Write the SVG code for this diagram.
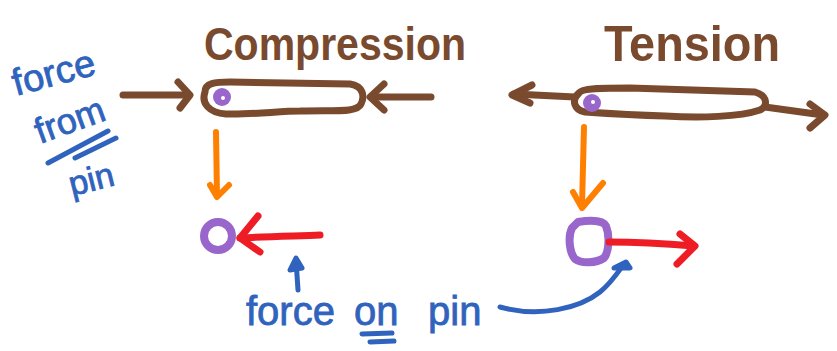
<svg xmlns="http://www.w3.org/2000/svg" width="837" height="351" viewBox="0 0 837 351">
  <style>
    .brown { fill: none; stroke: #7A4A2F; stroke-width: 7; stroke-linecap: round; stroke-linejoin: round; }
    .orange { fill: none; stroke: #FF8000; stroke-width: 6; stroke-linecap: round; stroke-linejoin: round; }
    .red { fill: none; stroke: #EE1C25; stroke-width: 7; stroke-linecap: round; stroke-linejoin: round; }
    .purple { fill: none; stroke: #9966CC; stroke-width: 8; stroke-linecap: round; stroke-linejoin: round; }
    .blue { fill: none; stroke: #2F63BD; stroke-width: 5; stroke-linecap: round; stroke-linejoin: round; }
    .title { font-family: "Liberation Sans", Arial, sans-serif; font-weight: bold; fill: #7A4A2F; }
    .note { font-family: "Liberation Sans", Arial, sans-serif; fill: #2F63BD; stroke: #2F63BD; stroke-width: 0.8; }
  </style>

  <!-- headings -->
  <g id="compression-label">
    <text class="title" x="204" y="60" font-size="46" textLength="262" lengthAdjust="spacingAndGlyphs">Compression</text>
  </g>
  <g id="tension-label">
    <text class="title" x="604" y="61" font-size="50" textLength="176" lengthAdjust="spacingAndGlyphs">Tension</text>
  </g>

  <!-- member in compression -->
  <g id="compression-member">
    <path class="brown" d="M205,92 C205,83 215,82 230,82 L350,84 C363,86 365,96 361,104 C357,113 335,110 300,111 C280,111 250,115 226,114 C209,113 201,103 205,92 Z"/>
    <circle cx="222" cy="97" r="9" fill="#9966CC"/>
    <circle cx="223" cy="98" r="2" fill="#ffffff"/>
  </g>

  <!-- member in tension -->
  <g id="tension-member">
    <path class="brown" d="M579,93 C582,88 600,88 630,88 L755,92 C768,96 768,106 760,110 C740,117 700,118 665,116 C630,115 600,113 585,112 C574,110 571,100 579,93 Z"/>
    <circle cx="592" cy="103" r="9" fill="#9966CC"/>
    <circle cx="593" cy="102" r="2" fill="#ffffff"/>
  </g>

  <!-- pins -->
  <g id="pin-compression">
    <circle class="purple" cx="218" cy="236" r="14"/>
  </g>
  <g id="pin-tension">
    <path class="purple" d="M578,222 C590,220 603,220 606,226 C610,236 609,252 604,258 C596,263 582,264 575,259 C569,252 568,236 572,228 Z"/>
  </g>

  <!-- notes -->
  <g id="force-from-pin-note">
    <text class="note" x="16" y="96" font-size="38" transform="rotate(-15 16 96)">force</text>
    <text class="note" x="40" y="144" font-size="36" transform="rotate(-20 40 144)">from</text>
    <path class="blue" d="M48,163 L108,131"/>
    <path class="blue" d="M75,158 L116,138"/>
    <text class="note" x="72" y="196" font-size="34" transform="rotate(-14 72 196)">pin</text>
  </g>
  <g id="force-on-pin-note">
    <text class="note" x="246" y="325" font-size="40">force</text>
    <text class="note" x="354" y="325" font-size="40">on</text>
    <path class="blue" d="M362,334 L392,333"/>
    <path class="blue" d="M370,342 L394,341"/>
    <text class="note" x="428" y="325" font-size="40">pin</text>
  </g>

  <!-- connectors -->
  <g id="connectors">
    <!-- brown applied loads -->
    <path class="brown" d="M123,95 L188,95"/>
    <path class="brown" d="M178,82 L190,95 L180,108"/>
    <path class="brown" d="M431,97 L372,97"/>
    <path class="brown" d="M384,84 L370,97 L384,110"/>
    <path class="brown" d="M575,97 L514,94"/>
    <path class="brown" d="M532,85 L512,95 L530,103"/>
    <path class="brown" d="M765,107 L823,115"/>
    <path class="brown" d="M810,104 L825,115 L810,128"/>

    <!-- orange: member to pin -->
    <path class="orange" d="M216,132 L217,196"/>
    <path class="orange" d="M210,185 L217,197 L229,185"/>
    <path class="orange" d="M584,127 L582,206"/>
    <path class="orange" d="M573,192 L582,208 L603,183"/>

    <!-- red: force on pin -->
    <path class="red" d="M320,235 C300,236 270,236 240,238"/>
    <path class="red" d="M258,216 L240,238 L260,252"/>
    <path class="red" d="M609,242 C640,242 670,244 694,246"/>
    <path class="red" d="M680,234 L695,246 L677,264"/>

    <!-- blue pointers -->
    <path class="blue" d="M298,290 L296,260"/>
    <path class="blue" d="M290,270 L296,258 L302,268 Z"/>
    <path class="blue" d="M500,307 C540,318 580,308 600,292 C612,282 618,272 624,264"/>
    <path class="blue" d="M614,268 L626,262 L630,268 Z"/>
  </g>
</svg>
